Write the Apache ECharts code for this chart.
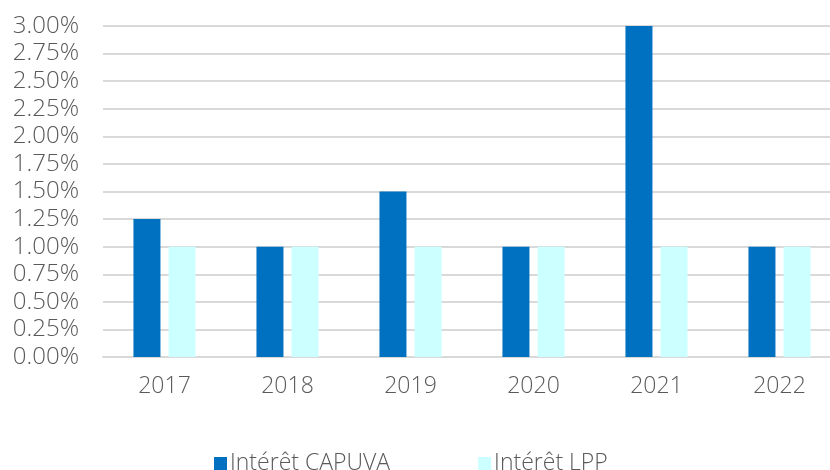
<!DOCTYPE html>
<html>
<head>
<meta charset="utf-8">
<script src="https://cdn.jsdelivr.net/npm/echarts@6/dist/echarts.min.js"></script>
<style>
  html, body { margin: 0; padding: 0; background: #fff; }
  #chart { width: 830px; height: 470px; }
</style>
</head>
<body>
<div id="chart"></div>
<script>
// années
const years = ['2017', '2018', '2019', '2020', '2021', '2022']
// taux en %
const capuva = [1.25, 1.00, 1.50, 1.00, 3.00, 1.00]
const lpp = [1.00, 1.00, 1.00, 1.00, 1.00, 1.00]
const seriesNames = ['Intérêt CAPUVA', 'Intérêt LPP']

const textColor = '#595959'
const font = '"Open Sans", "Noto Sans", sans-serif'

const chart = echarts.init(document.getElementById('chart'), null, { renderer: 'canvas' })
chart.setOption({
  animation: false,
  textStyle: { fontFamily: font },
  // la zone de tracé dépasse un peu à droite, comme dans Excel
  grid: { left: 103, width: 738, top: 26, bottom: 113, outerBoundsMode: 'none', containLabel: false },
  legend: {
    bottom: -5,
    left: 214,
    padding: 0,
    itemWidth: 13,
    itemHeight: 13,
    itemGap: 88,
    icon: 'rect',
    textStyle: { color: textColor, fontSize: 23, fontWeight: 300, fontFamily: font, padding: [0, 0, 0, -2] },
    data: seriesNames
  },
  xAxis: {
    type: 'category',
    data: years,
    axisLine: { lineStyle: { color: '#d9d9d9', width: 2 } },
    axisTick: { show: false },
    axisLabel: { color: textColor, fontSize: 23, fontWeight: 300, margin: 18 }
  },
  yAxis: {
    type: 'value',
    min: 0,
    max: 3,
    interval: 0.25,
    axisLine: { show: false },
    axisTick: { show: false },
    splitLine: { lineStyle: { color: '#d9d9d9', width: 2 } },
    axisLabel: {
      color: textColor,
      fontSize: 24,
      fontWeight: 300,
      margin: 24,
      formatter: v => v.toFixed(2) + '%'
    }
  },
  series: [
    {
      name: seriesNames[0],
      type: 'bar',
      data: capuva,
      barWidth: 27,
      barGap: '30%',
      itemStyle: { color: '#0070c0' }
    },
    {
      name: seriesNames[1],
      type: 'bar',
      data: lpp,
      barWidth: 27,
      itemStyle: { color: '#ccffff' }
    }
  ]
})
</script>
</body>
</html>
